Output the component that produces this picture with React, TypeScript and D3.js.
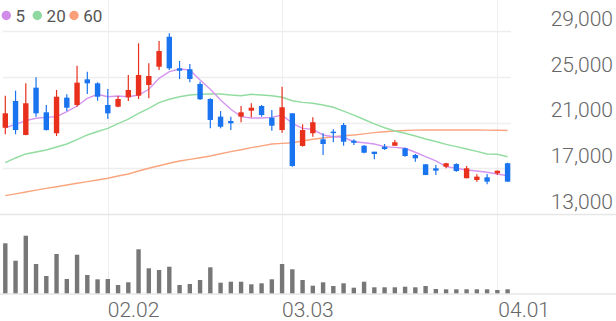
import React from 'react';
import * as d3 from 'd3';

const W = 616;
const H = 321;

const opens = [20550, 22890, 19920, 24050, 21900, 20070, 23180, 22540, 24780, 24430, 22540, 22390, 23210, 23350, 24280, 25880, 28500, 25740, 25660, 24370, 23060, 21520, 21140, 21520, 22040, 22450, 21430, 20350, 21810, 18960, 20070, 19540, 20210, 20790, 19420, 18980, 18460, 18900, 18980, 18760, 18170, 17360, 17010, 17150, 17380, 16140, 15990, 16220, 16570, 17450];
const highs = [23350, 23790, 24430, 24960, 22540, 23850, 23470, 25970, 25450, 24520, 23930, 23320, 25160, 27930, 26180, 28130, 28800, 26380, 26120, 24570, 23120, 22010, 21520, 22450, 22690, 22540, 22100, 24140, 21810, 20850, 21460, 20070, 20410, 20970, 19540, 19040, 18460, 19130, 19480, 18810, 18260, 17380, 17300, 17500, 17450, 17210, 16480, 16510, 16800, 17500];
const lows = [19980, 19980, 19900, 21520, 20300, 19830, 22010, 22390, 23500, 22910, 21310, 22340, 22890, 23060, 23120, 25590, 25590, 24810, 24520, 22970, 20500, 20500, 20350, 21030, 21460, 21520, 20290, 20120, 17150, 18900, 19770, 18170, 19280, 18980, 19040, 18320, 17790, 18610, 18980, 18020, 17590, 16420, 16420, 17010, 16710, 16140, 15840, 15610, 16420, 15840];
const closes = [21810, 20350, 22690, 21810, 20350, 23260, 22300, 24490, 24430, 23260, 21810, 23060, 23850, 25160, 25070, 27250, 25740, 25530, 24810, 23040, 21230, 20640, 20940, 21900, 22300, 21660, 20730, 22340, 17210, 20350, 21030, 19130, 20120, 19330, 19240, 18370, 18260, 18690, 19280, 18080, 17880, 16420, 16800, 17450, 16770, 17010, 16280, 15840, 16800, 15840];
const volumes = [5000, 3260, 5760, 2930, 1730, 3930, 1430, 3860, 1830, 1400, 1430, 830, 1100, 4400, 2500, 2330, 2660, 830, 930, 1330, 2600, 1060, 1160, 1160, 900, 1000, 1400, 2930, 2400, 1330, 760, 1100, 730, 1000, 560, 1160, 600, 600, 600, 660, 600, 730, 430, 400, 400, 400, 400, 400, 330, 400];
const ma5 = [20550, 20850, 21170, 21380, 21460, 21520, 21950, 22450, 23120, 23470, 23260, 23320, 23260, 23410, 23910, 24870, 25450, 25680, 25590, 24720, 23910, 22970, 22160, 21520, 21400, 21400, 21460, 21660, 20940, 20500, 20410, 19920, 19770, 19720, 19330, 19240, 19130, 18900, 18840, 18760, 18410, 18020, 17650, 17150, 17010, 16860, 16770, 16660, 16510, 16360];
const ma20 = [17500, 17910, 18260, 18430, 18610, 18870, 19130, 19520, 19920, 20220, 20500, 20920, 21310, 21800, 22250, 22740, 23040, 23260, 23410, 23470, 23500, 23500, 23410, 23350, 23470, 23410, 23350, 23210, 22910, 22770, 22690, 22540, 22340, 22010, 21660, 21270, 20880, 20550, 20270, 20070, 19830, 19570, 19350, 19100, 18900, 18690, 18490, 18260, 18230, 18020];
const ma60 = [14620, 14770, 14940, 15100, 15260, 15400, 15550, 15700, 15840, 15990, 16140, 16340, 16510, 16770, 17010, 17230, 17450, 17650, 17790, 17930, 18080, 18280, 18460, 18630, 18810, 18970, 19130, 19190, 19240, 19390, 19540, 19650, 19770, 19850, 19920, 20020, 20120, 20200, 20270, 20310, 20340, 20350, 20350, 20350, 20350, 20350, 20350, 20340, 20330, 20310];

const xTickIndex = [10, 27, 48];
const xTickLabels = ['02.02', '03.03', '04.01'];
const yTicks = [13000, 17000, 21000, 25000, 29000];
const legendLabels = ['5', '20', '60'];

const UP = '#e8301c';
const DOWN = '#1a74ef';
const MA_COLORS = ['#d496f0', '#92dca0', '#fba57f'];
const LEGEND_COLORS = ['#d08ce8', '#8fd8a0', '#f9a07a'];
const GRID = '#eeeeee';
const TEXT = '#666666';
const FONT = 'Roboto, "Noto Sans", sans-serif';

export default function App() {
  const n = closes.length;
  const x = d3.scaleLinear().domain([0, n - 1]).range([5.3, 507.6]);
  const y = d3.scaleLinear().domain([13000, 29000]).range([214.2, 31]);
  const yv = d3.scaleLinear().domain([0, 6000]).range([293.3, 233.3]);
  const line = d3
    .line<number>()
    .x((_, i) => x(i))
    .y((d) => y(d))
    .curve(d3.curveLinear);

  const bodyW = 5.4;
  const volW = 4.4;
  const mas = [ma5, ma20, ma60];

  const legendX = [6.3, 37.3, 74];

  return (
    <svg
      width={W}
      height={H}
      style={{ position: 'fixed', left: 0, top: 0, background: '#fff' }}
      fontFamily={FONT}
    >
      {xTickIndex.map((ti, k) => (
        <line
          key={'vg' + k}
          x1={Math.round(x(ti)) + 0.5}
          x2={Math.round(x(ti)) + 0.5}
          y1={0}
          y2={293.5}
          stroke={GRID}
          strokeWidth={1}
        />
      ))}
      {yTicks.map((t, k) => (
        <line
          key={'hg' + k}
          x1={t === 13000 ? 0 : 3}
          x2={t === 13000 ? W : 511}
          y1={Math.round(y(t)) + 0.5}
          y2={Math.round(y(t)) + 0.5}
          stroke={t === 13000 ? '#e6e6e6' : GRID}
          strokeWidth={1.5}
        />
      ))}
      <line x1={0} x2={W} y1={294} y2={294} stroke="#e6e6e6" strokeWidth={1.5} />

      {yTicks.map((t, k) => (
        <text
          key={'yl' + k}
          x={613}
          y={y(t) - 5.3}
          textAnchor="end"
          fontSize={21}
          fontWeight={300}
          fill={TEXT}
        >
          {d3.format(',')(t)}
        </text>
      ))}

      {xTickIndex.map((ti, k) => (
        <text
          key={'xl' + k}
          x={x(ti) + (k === 2 ? 1 : 0)}
          y={316.8}
          textAnchor="start"
          fontSize={21}
          fontWeight={300}
          fill={TEXT}
        >
          {xTickLabels[k]}
        </text>
      ))}

      {[2, 1, 0].map((m) => (
        <path
          key={'ma' + m}
          d={line(mas[m]) || ''}
          fill="none"
          stroke={MA_COLORS[m]}
          strokeWidth={1.4}
        />
      ))}

      {closes.map((c, i) => {
        const o = opens[i];
        const up = c >= o;
        const col = up ? UP : DOWN;
        const cx = x(i);
        const top = y(Math.max(o, c));
        const bot = y(Math.min(o, c));
        return (
          <g key={'c' + i}>
            <line x1={cx} x2={cx} y1={y(highs[i])} y2={y(lows[i])} stroke={col} strokeWidth={1.2} />
            <rect
              x={cx - bodyW / 2}
              y={top}
              width={bodyW}
              height={Math.max(bot - top, 1.5)}
              fill={col}
            />
          </g>
        );
      })}

      {volumes.map((v, i) => (
        <rect
          key={'v' + i}
          x={x(i) - volW / 2}
          y={yv(v)}
          width={volW}
          height={yv(0) - yv(v)}
          fill="#777777"
        />
      ))}

      {legendLabels.map((l, k) => (
        <g key={'lg' + k}>
          <circle cx={legendX[k]} cy={15.5} r={4.7} fill={LEGEND_COLORS[k]} />
          <text x={legendX[k] + 9.3} y={21.7} fontSize={17} fill="#555" fontWeight={400}>
            {l}
          </text>
        </g>
      ))}
    </svg>
  );
}
